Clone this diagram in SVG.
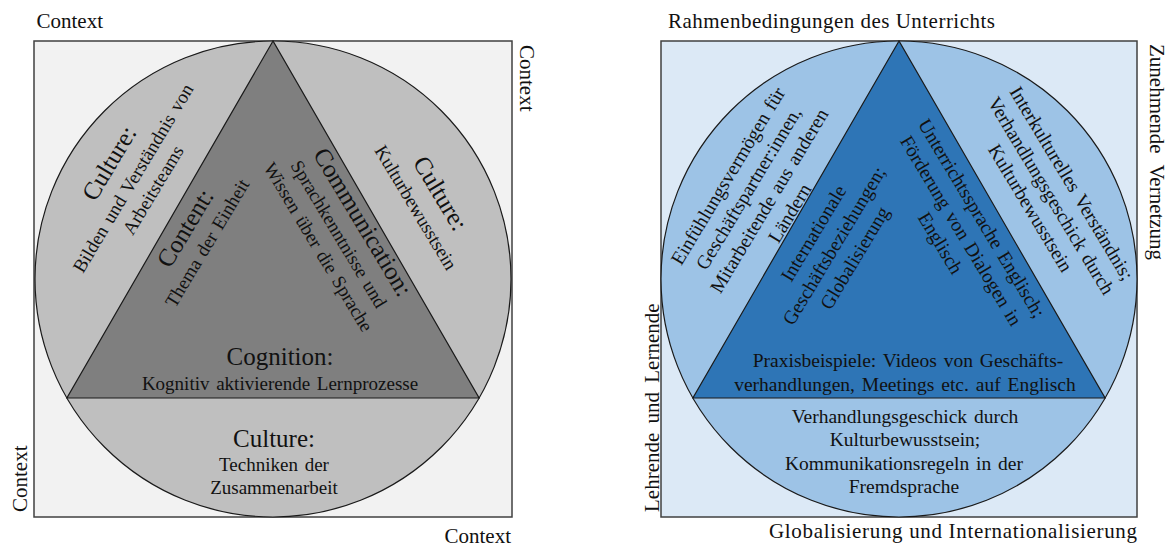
<svg xmlns="http://www.w3.org/2000/svg" width="1170" height="546" viewBox="0 0 1170 546">
<style>
text { font-family: "Liberation Serif", "Times New Roman", serif; fill: #111; }
.lbl { font-size: 21px; }
.hd { font-size: 25px; }
.tx { font-size: 19px; word-spacing: 2px; }
.txb { font-size: 19.5px; word-spacing: 2px; }
.c { text-anchor: middle; dominant-baseline: central; }
.m { text-anchor: middle; }
.frameL { fill: #f2f2f2; stroke: #404040; stroke-width: 1.5; }
.circL { fill: #bfbfbf; stroke: #1a1a1a; stroke-width: 1.2; }
.triL { fill: #7f7f7f; stroke: #1a1a1a; stroke-width: 1.2; }
.frameR { fill: #dce9f6; stroke: #404040; stroke-width: 1.5; }
.circR { fill: #9dc3e6; stroke: #1a1a1a; stroke-width: 1.2; }
.triR { fill: #2e75b6; stroke: #1a1a1a; stroke-width: 1.2; }
</style>
<rect width="1170" height="546" fill="#ffffff"/>

<!-- LEFT PANEL -->
<g id="left-panel">
  <g id="L-context">
    <rect class="frameL" x="34" y="41" width="478" height="476"/>
    <text class="lbl" x="36.5" y="28">Context</text>
    <text class="lbl" transform="translate(520,45) rotate(90)">Context</text>
    <text class="lbl" transform="translate(27,512) rotate(-90)">Context</text>
    <text class="lbl" x="511" y="543" text-anchor="end">Context</text>
  </g>
  <g id="L-culture-circle">
    <circle class="circL" cx="273" cy="279" r="238"/>
  </g>
  <g id="L-triangle">
    <polygon class="triL" points="273,41 66.9,398 479.1,398"/>
  </g>
  <g id="L-culture-left">
    <text class="hd c" transform="translate(109,163) rotate(-59)">Culture:</text>
    <text class="tx c" transform="translate(133,178) rotate(-59)">Bilden und Verständnis von</text>
    <text class="tx c" transform="translate(153,190) rotate(-59)">Arbeitsteams</text>
  </g>
  <g id="L-content">
    <text class="hd c" transform="translate(185,228) rotate(-59)">Content:</text>
    <text class="tx c" transform="translate(207,243) rotate(-59)">Thema der Einheit</text>
  </g>
  <g id="L-communication">
    <text class="hd c" transform="translate(363,222) rotate(59)">Communication:</text>
    <text class="tx c" transform="translate(339,234) rotate(59)">Sprachkenntnisse und</text>
    <text class="tx c" transform="translate(318.5,247) rotate(59)">Wissen über die Sprache</text>
  </g>
  <g id="L-culture-right">
    <text class="hd c" transform="translate(440.7,193.3) rotate(59)">Culture:</text>
    <text class="tx c" transform="translate(416,207.5) rotate(59)">Kulturbewusstsein</text>
  </g>
  <g id="L-cognition">
    <text class="hd m" x="280" y="365">Cognition:</text>
    <text class="tx m" x="280" y="390">Kognitiv aktivierende Lernprozesse</text>
  </g>
  <g id="L-culture-bottom">
    <text class="hd m" x="274" y="446.7">Culture:</text>
    <text class="tx m" x="274" y="471">Techniken der</text>
    <text class="tx m" x="274" y="494">Zusammenarbeit</text>
  </g>
</g>

<!-- RIGHT PANEL -->
<g id="right-panel">
  <g id="R-frame">
    <rect class="frameR" x="661" y="41" width="476" height="476"/>
    <text class="lbl" x="668" y="28.3" textLength="327" lengthAdjust="spacing">Rahmenbedingungen des Unterrichts</text>
    <text class="lbl" transform="translate(1150,44) rotate(90)" word-spacing="6">Zunehmende Vernetzung</text>
    <text class="lbl" transform="translate(659,512) rotate(-90)" word-spacing="4">Lehrende und Lernende</text>
    <text class="lbl" x="769" y="538" textLength="368" lengthAdjust="spacing">Globalisierung und Internationalisierung</text>
  </g>
  <g id="R-circle">
    <circle class="circR" cx="899" cy="279" r="238"/>
  </g>
  <g id="R-triangle">
    <polygon class="triR" points="899,41 692.9,398 1105.1,398"/>
  </g>
  <g id="R-left-segment">
    <text class="txb c" transform="translate(728,176) rotate(-59)">Einfühlungsvermögen für</text>
    <text class="txb c" transform="translate(748.6,188.4) rotate(-59)">Geschäftspartner:innen,</text>
    <text class="txb c" transform="translate(769.1,200.7) rotate(-59)">Mitarbeitende aus anderen</text>
    <text class="txb c" transform="translate(789.7,213.1) rotate(-59)">Ländern</text>
  </g>
  <g id="R-tri-left">
    <text class="txb c" transform="translate(813.5,233.3) rotate(-59)">Internationale</text>
    <text class="txb c" transform="translate(834.1,245.7) rotate(-59)">Geschäftsbeziehungen;</text>
    <text class="txb c" transform="translate(854.7,258) rotate(-59)">Globalisierung</text>
  </g>
  <g id="R-tri-right">
    <text class="txb c" transform="translate(981.7,218.3) rotate(59)">Unterrichtssprache Englisch;</text>
    <text class="txb c" transform="translate(961.1,230.7) rotate(59)">Förderung von Dialogen in</text>
    <text class="txb c" transform="translate(940.5,243.1) rotate(59)">Englisch</text>
  </g>
  <g id="R-right-segment">
    <text class="txb c" transform="translate(1071.7,183.3) rotate(59)">Interkulturelles Verständnis;</text>
    <text class="txb c" transform="translate(1051.1,195.7) rotate(59)">Verhandlungsgeschick durch</text>
    <text class="txb c" transform="translate(1030.5,208.1) rotate(59)">Kulturbewusstsein</text>
  </g>
  <g id="R-tri-bottom">
    <text class="txb m" x="908" y="366.7">Praxisbeispiele: Videos von Geschäfts-</text>
    <text class="txb m" x="905" y="390.7">verhandlungen, Meetings etc. auf Englisch</text>
  </g>
  <g id="R-bottom-segment">
    <text class="txb m" x="905" y="423.3">Verhandlungsgeschick durch</text>
    <text class="txb m" x="905" y="446">Kulturbewusstsein;</text>
    <text class="txb m" x="904" y="470">Kommunikationsregeln in der</text>
    <text class="txb m" x="904" y="493.3">Fremdsprache</text>
  </g>
</g>
</svg>
